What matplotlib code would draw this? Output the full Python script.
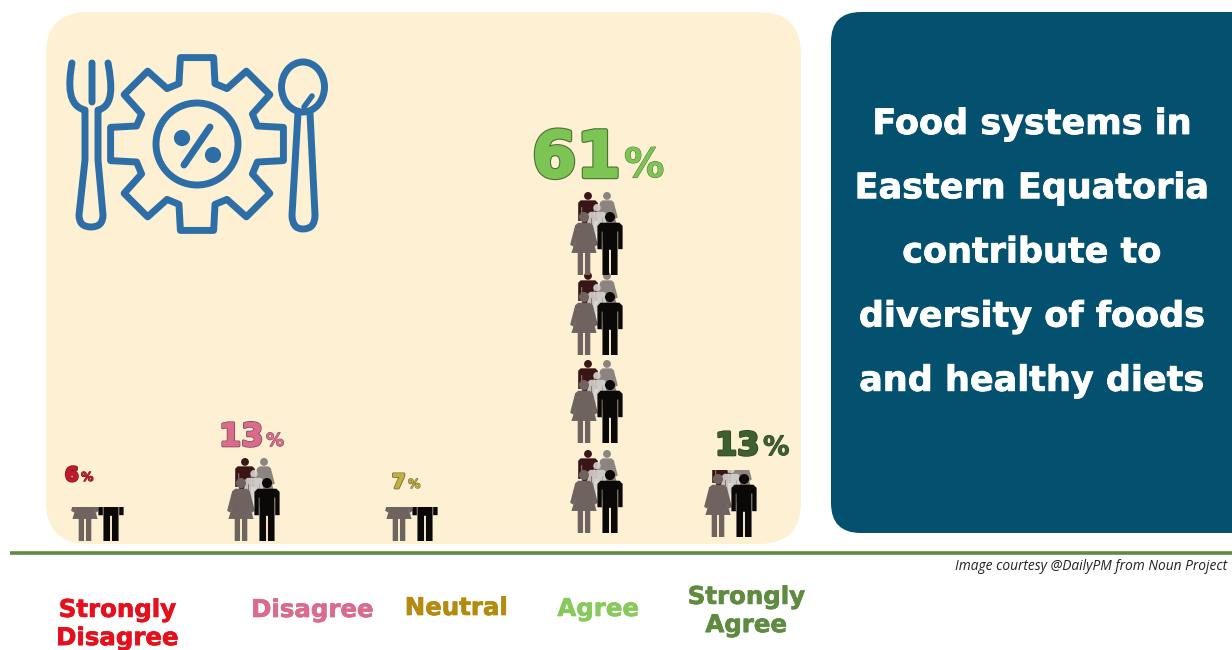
import numpy as np
import matplotlib
matplotlib.use('Agg')
import matplotlib.pyplot as plt
import matplotlib.patheffects as pe
from matplotlib.patches import Circle, Ellipse, FancyBboxPatch, PathPatch, Polygon, Rectangle
from matplotlib.path import Path
from matplotlib.transforms import Affine2D

# Daten
categories = ['Strongly\nDisagree', 'Disagree', 'Neutral', 'Agree', 'Strongly\nAgree']
percent_values = [6, 13, 7, 61, 13]
# Anteil der Personengruppe pro Zeile, unterste Zeile zuerst
icon_fill = [[0.41], [1.0], [0.41], [1.0, 1.0, 1.0, 1.0], [0.81]]

title_lines = ['Food systems in', 'Eastern Equatoria', 'contribute to',
               'diversity of foods', 'and healthy diets']
credit = 'Image courtesy @DailyPM from Noun Project'

# Layout in Pixeln
group_x = [98, 254, 412, 597, 731]
row_bottom = [[541], [541], [541], [533, 443, 355, 275], [537]]
label_x = [117, 312, 456, 598, 746]
label_y = [624, 610, 608, 609, 611]
num_x = [65, 219, 392, 532, 715]
num_y = [481, 446, 488, 177, 455]
num_size = [14, 23, 14, 46, 23]
pct_size = [9, 13, 9, 29, 19]
num_gap = [16, 47, 16, 92, 48]
label_colors = ['#E5101C', '#D96C8C', '#B58B0F', '#88C95C', '#5F8B40']
num_colors = ['#C21A2C', '#DB6B8C', '#C2B044', '#7CC454', '#3E5F2E']
edge_colors = ['#7A1A20', '#7D4A58', '#6F6630', '#4C7035', '#2F4524']

CREAM = '#FEF0D2'
NAVY = '#04506F'
GREEN = '#5F8B40'
ICON = '#2E6EA6'

fig = plt.figure(figsize=(12.32, 6.5), dpi=100)
ax = fig.add_axes([0, 0, 1, 1])
ax.set_xlim(0, 1232)
ax.set_ylim(650, 0)
ax.axis('off')

ax.add_patch(FancyBboxPatch((46 + 42, 12 + 42), 755 - 84, 532 - 84,
                            boxstyle='round,pad=42,rounding_size=42', fc=CREAM, ec='none'))
ax.add_patch(FancyBboxPatch((831 + 30, 12 + 30), 480 - 60, 521 - 60,
                            boxstyle='round,pad=30,rounding_size=30', fc=NAVY, ec='none'))
ax.plot([10, 1232], [553, 553], color=GREEN, lw=2.6, solid_capstyle='butt')


def draw_person(cx, feet, height, color, woman, clip, alpha=1.0):
    # Figur in lokalen Koordinaten: x um die Mitte, y von 0 (Kopf) bis 1 (Fuesse)
    tr = Affine2D().scale(height, height).translate(cx, feet - height) + ax.transData
    if woman:
        body = [(-0.09, 0.17), (0.09, 0.17), (0.14, 0.21), (0.22, 0.52), (0.17, 0.55), (0.12, 0.40),
                (0.20, 0.65), (0.10, 0.65), (0.10, 1.0), (0.015, 1.0), (0.015, 0.65),
                (-0.015, 0.65), (-0.015, 1.0), (-0.10, 1.0), (-0.10, 0.65), (-0.20, 0.65),
                (-0.12, 0.40), (-0.17, 0.55), (-0.22, 0.52), (-0.14, 0.21)]
    else:
        body = [(-0.15, 0.17), (0.15, 0.17), (0.20, 0.22), (0.20, 0.59), (0.13, 0.59), (0.13, 0.31),
                (0.12, 0.31), (0.12, 1.0), (0.015, 1.0), (0.015, 0.60), (-0.015, 0.60),
                (-0.015, 1.0), (-0.12, 1.0), (-0.12, 0.31), (-0.13, 0.31), (-0.13, 0.59),
                (-0.20, 0.59), (-0.20, 0.22)]
    parts = [Circle((0, 0.08), 0.08), Polygon(body, closed=True)]
    for p in parts:
        p.set(fc=color, ec='none', alpha=alpha, transform=tr)
        ax.add_patch(p)
        p.set_clip_path(clip)


def draw_group(cx, bottom, fill):
    # Personengruppe; fill schneidet sie von oben her ab
    full_h = 83
    top = bottom - full_h * fill
    clip = Rectangle((cx - 60, top), 120, bottom - top, transform=ax.transData)
    draw_person(cx - 9, bottom - 34, 49, '#3A1518', False, clip)
    draw_person(cx + 10, bottom - 34, 49, '#8C8480', True, clip)
    draw_person(cx, bottom - 25, 46, '#D5D2CE', False, clip, alpha=0.9)
    draw_person(cx - 13, bottom, 63, '#6F6360', True, clip)
    draw_person(cx + 13, bottom, 63, '#0B0808', False, clip)


for x, rows, fills in zip(group_x, row_bottom, icon_fill):
    for b, f in zip(rows, fills):
        draw_group(x, b, f)

# Prozentzahlen: Fuellung etwas fetter, dunkler Rand
for i, v in enumerate(percent_values):
    w = 1.0 if num_size[i] > 30 else 0.5
    stroke = [pe.withStroke(linewidth=2.6 * w + 0.6, foreground=edge_colors[i]),
              pe.withStroke(linewidth=1.6 * w, foreground=num_colors[i])]
    ax.text(num_x[i], num_y[i], str(v), fontsize=num_size[i], fontweight='bold', color=num_colors[i],
            ha='left', va='baseline', path_effects=stroke)
    ax.text(num_x[i] + num_gap[i], num_y[i], '%', fontsize=pct_size[i], fontweight='bold', color=num_colors[i],
            ha='left', va='baseline',
            path_effects=[pe.withStroke(linewidth=0.7, foreground=edge_colors[i])])

# Kategorien unten
for i, c in enumerate(categories):
    ax.text(label_x[i], label_y[i], c, fontsize=17.6, fontweight='bold', color=label_colors[i],
            ha='center', va='center', linespacing=1.22,
            path_effects=[pe.withStroke(linewidth=0.5, foreground=label_colors[i])])

# Titel im blauen Feld
for i, line in enumerate(title_lines):
    ax.text(1032, 124 + i * 64.2, line, fontsize=25.2, fontweight='bold', color='white',
            ha='center', va='center',
            path_effects=[pe.withStroke(linewidth=0.6, foreground='white')])

ax.text(955, 566, credit, fontsize=9.95, style='italic', family='Open Sans', color='#222222',
        ha='left', va='center')

# Symbol: Zahnrad mit Besteck
line = dict(fc='none', ec=ICON, lw=5, joinstyle='round', capstyle='round')
gx, gy = 197, 144
pts = []
for a in np.radians(np.arange(0, 360, 45)):
    for r, d in [(63, -0.29), (88, -0.19), (88, 0.19), (63, 0.29)]:
        pts.append((gx + r * np.sin(a + d), gy - r * np.cos(a + d)))
ax.add_patch(Polygon(pts, closed=True, **line))
ax.add_patch(Circle((gx, gy), 41, **line))
ax.add_patch(Circle((182, 138), 6, fc=ICON, ec=ICON, lw=3))
ax.add_patch(Circle((213, 155), 6, fc=ICON, ec=ICON, lw=3))
ax.plot([184, 210], [165, 127], color=ICON, lw=5, solid_capstyle='round')

fork = Path([(72, 63), (68, 85), (68, 106), (85, 110), (85, 160), (79, 215),
             (79, 227), (91, 227), (103, 227), (103, 215), (98, 160), (98, 110),
             (114, 106), (112, 85), (108, 63), (92, 63), (92, 102)],
            [Path.MOVETO, Path.CURVE4, Path.CURVE4, Path.CURVE4, Path.LINETO, Path.LINETO,
             Path.CURVE3, Path.CURVE3, Path.CURVE3, Path.CURVE3, Path.LINETO, Path.LINETO,
             Path.CURVE4, Path.CURVE4, Path.CURVE4, Path.MOVETO, Path.LINETO])
ax.add_patch(PathPatch(fork, **line))

ax.add_patch(Ellipse((303, 87), 43, 50, **line))
spoon = Path([(298, 113), (292, 215), (292, 229), (303, 229), (315, 229), (315, 215), (310, 113)],
             [Path.MOVETO, Path.LINETO, Path.CURVE3, Path.CURVE3, Path.CURVE3, Path.CURVE3, Path.LINETO])
ax.add_patch(PathPatch(spoon, **line))
ax.plot([304, 312], [107, 96], color=ICON, lw=4, solid_capstyle='round')

fig.savefig('out.png', dpi=100)
